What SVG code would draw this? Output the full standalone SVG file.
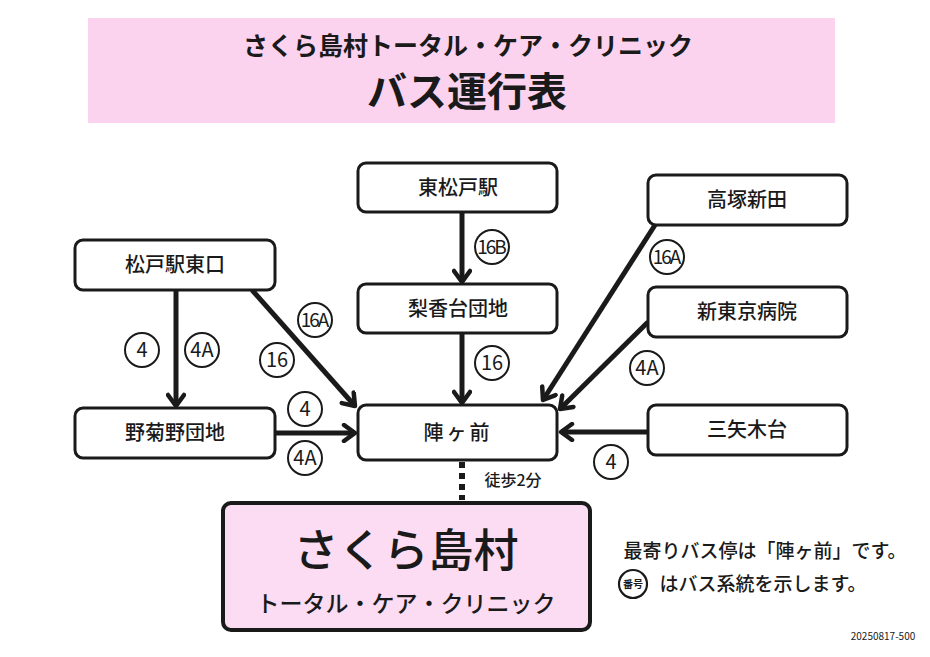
<svg xmlns="http://www.w3.org/2000/svg" width="930" height="657" viewBox="0 0 930 657">
<style>
.t{font-family:"Noto Sans CJK JP","Noto Sans",sans-serif;fill:#1a1a1a;text-anchor:middle}
.node rect{fill:#fff;stroke:#1a1a1a;stroke-width:3}
.nl{font-size:20px;font-weight:500}
.ln{stroke:#1a1a1a;stroke-width:5;fill:none}
.badge circle{fill:#fff;stroke:#1a1a1a;stroke-width:2}
.badge text{font-family:"Noto Sans CJK JP","Noto Sans",sans-serif;fill:#1a1a1a;text-anchor:middle;font-size:20px}
</style>
<defs>
<marker id="ah" viewBox="0 0 20 20" refX="16" refY="10" markerWidth="20" markerHeight="20" markerUnits="userSpaceOnUse" orient="auto">
<path d="M5,2 L16,10 L5,18" fill="none" stroke="#1a1a1a" stroke-width="4.5" stroke-linecap="round" stroke-linejoin="round"/>
</marker>
</defs>
<rect width="930" height="657" fill="#fff"/>
<g id="title">
<rect x="88" y="18" width="747" height="105" fill="#fbd3ee"/>
<text class="t" x="468" y="55" font-size="25" font-weight="700">さくら島村トータル・ケア・クリニック</text>
<text class="t" x="467" y="106" font-size="40" font-weight="700">バス運行表</text>
</g>
<g id="connectors">
<line class="ln" x1="462" y1="212" x2="462" y2="282" marker-end="url(#ah)"/>
<line class="ln" x1="462" y1="333" x2="462" y2="403" marker-end="url(#ah)"/>
<line class="ln" x1="176" y1="290" x2="176" y2="406" marker-end="url(#ah)"/>
<line class="ln" x1="252" y1="290" x2="355" y2="406" marker-end="url(#ah)"/>
<line class="ln" x1="275" y1="433" x2="355" y2="433" marker-end="url(#ah)"/>
<line class="ln" x1="655" y1="225" x2="543" y2="400" marker-end="url(#ah)"/>
<line class="ln" x1="648" y1="322" x2="560" y2="409" marker-end="url(#ah)"/>
<line class="ln" x1="648" y1="432" x2="561" y2="432" marker-end="url(#ah)"/>
<line x1="462" y1="462" x2="462" y2="500" stroke="#1a1a1a" stroke-width="6" stroke-dasharray="6,5"/>
<text class="t" x="513" y="486" font-size="16" font-weight="500">徒歩2分</text>
</g>
<g id="n-higashimatsudo" class="node"><rect x="358" y="163" width="199" height="49" rx="8"/><text class="t nl" x="458" y="195">東松戸駅</text></g>
<g id="n-rikadai" class="node"><rect x="358" y="284" width="199" height="49" rx="8"/><text class="t nl" x="458" y="316">梨香台団地</text></g>
<g id="n-jingamae" class="node"><rect x="358" y="405" width="199" height="55" rx="8"/><text class="t nl" x="458" y="440" letter-spacing="3">陣ヶ前</text></g>
<g id="n-matsudo-east" class="node"><rect x="75" y="240" width="200" height="50" rx="8"/><text class="t nl" x="175" y="272">松戸駅東口</text></g>
<g id="n-nogikuno" class="node"><rect x="75" y="408" width="200" height="50" rx="8"/><text class="t nl" x="175" y="440">野菊野団地</text></g>
<g id="n-takatsuka" class="node"><rect x="648" y="175" width="199" height="50" rx="8"/><text class="t nl" x="747" y="207">高塚新田</text></g>
<g id="n-shintokyo" class="node"><rect x="648" y="287" width="199" height="50" rx="8"/><text class="t nl" x="747" y="319">新東京病院</text></g>
<g id="n-sanyagi" class="node"><rect x="648" y="405" width="199" height="50" rx="8"/><text class="t nl" x="747" y="437">三矢木台</text></g>
<g id="n-clinic">
<rect x="223" y="503" width="367" height="127" rx="8" fill="#fcdcf2" stroke="#1a1a1a" stroke-width="4"/>
<text class="t" x="406" y="567" font-size="45" font-weight="500">さくら島村</text>
<text class="t" x="406" y="612" font-size="23" font-weight="500">トータル・ケア・クリニック</text>
</g>
<g id="badges" class="badge">
<circle cx="492" cy="247" r="17"/><text style="font-size:19px;letter-spacing:-2px" x="491" y="254">16B</text>
<circle cx="492" cy="363" r="17"/><text x="492" y="370">16</text>
<circle cx="142" cy="350" r="17"/><text x="142" y="357">4</text>
<circle cx="202" cy="350" r="17"/><text x="202" y="357">4A</text>
<circle cx="315" cy="320" r="17"/><text style="font-size:19px;letter-spacing:-2px" x="314" y="327">16A</text>
<circle cx="277" cy="360" r="17"/><text x="277" y="367">16</text>
<circle cx="305" cy="409" r="17"/><text x="305" y="416">4</text>
<circle cx="305" cy="458" r="17"/><text x="305" y="465">4A</text>
<circle cx="667" cy="257" r="17"/><text style="font-size:19px;letter-spacing:-2px" x="666" y="264">16A</text>
<circle cx="647" cy="368" r="17"/><text x="647" y="375">4A</text>
<circle cx="611" cy="462" r="17"/><text x="611" y="469">4</text>
</g>
<g id="legend">
<text class="t" x="765" y="558" font-size="19" font-weight="500">最寄りバス停は「陣ヶ前」です。</text>
<circle cx="633" cy="584" r="14" fill="#fff" stroke="#1a1a1a" stroke-width="2.2"/>
<text class="t" x="633" y="588" font-size="10" font-weight="700">番号</text>
<text class="t" x="763" y="591" font-size="19" font-weight="500">はバス系統を示します。</text>
<text class="t" x="883" y="640" font-size="10">20250817-500</text>
</g>
</svg>
